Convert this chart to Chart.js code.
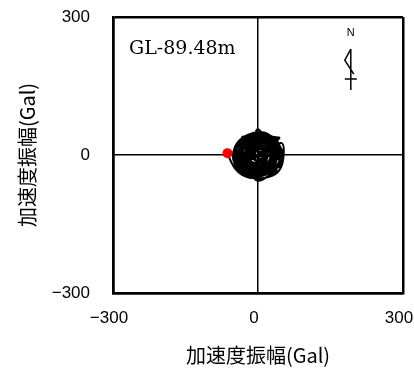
<!DOCTYPE html>
<html>
<head>
<meta charset="utf-8">
<script src="https://cdn.jsdelivr.net/npm/chart.js@4"></script>
<style>
html,body{margin:0;padding:0;background:#fff;}
</style>
</head>
<body>
<canvas id="orbit" width="414" height="376"></canvas>
<script>
// orbit of horizontal acceleration (Gal): EW on x, NS on y
const ewAcc = [
  -63,-56,-47,-34,-16,2,18,31,40,43,
  36,20,2,-16,-31,-41,-44,-36,-20,-2,
  16,29,36,30,14,-4,-22,-32,-30,-14,
  6,24,46,52,44,28,10,0,-4,2,
  -10,-24,-12,8,26,34,20,0,-18,-30,
  -38,-28,-8,14,32,40,34,14,-8,-26,
  -20,0,22,30,18,-2,-16,-6,14,16,
  2,-10,4,48,44,26,4,-22,-40,-46,
  -38,-20,4,26,42,46,38,16,-6,-28,
  -42,-48,-42,-26,-4,18,36,42,30,10,
  -12,-28,-34,-26,-8,12,26,24,8,-10,
  -22,-14,6,20,12,-6,-8,8,36,40,
  20,-30,-44,-36,-12,10,30,45,52,40,
  22,-2,-22,-38,-46,-50,-44,-30,-8,14,
  28,34,24,0,-20,-34,-36,-24,-2,20,
  28,18,-4,-22,-24,-10,10,20,10,-8,
  -12,0,12,2,-30,-34,-16,0,24,38,
  30,16,-4,-40,-48,-52,-48,-32,-10,12,
  30,44,48,42,24,2,-20,-36,-40,-36,
  -18,6,24,30,14,-14,-26,-20,0,10,
  -40,-30,-6,20,38,36,20,-4,-26,-36,
  -30,-12,10,28,32,22,0,-20,-28,-18,
  4,22,24,6,-14,-18,-2,16,8,-8,
  44,30,12,-8,-26,-42,-48,-44,-34,-16,
  6,26,42,48,42,26,6,-14,-30,-38,
  -34,-18,2,22,34,36,26,8,-12,-28,
  -36,-32,-14,8,24,28,16,-2,-18,-22,
  -10,10,16,-2,-6,4,48,52,40,12,
  -12,-32,-46,-50,-40,-20,2,20,38,46,
  44,30,10,-12,-30,-40,-38,-24,-2,20
];
const nsAcc = [
  4,-14,-30,-42,-50,-46,-38,-26,-8,12,
  30,40,43,38,27,10,-8,-24,-34,-36,
  -30,-16,2,20,30,32,24,8,-12,-24,
  -22,-12,-4,4,20,34,46,56,50,44,
  30,14,-6,-20,-36,-42,-48,-52,-42,-20,
  6,30,42,38,24,4,-18,-30,-26,-8,
  16,26,18,0,-16,-14,2,18,12,-6,
  -8,6,14,-14,-26,-30,-40,-32,-14,8,
  24,36,38,30,12,-6,-30,-42,-44,-34,
  -16,2,22,36,40,34,18,-2,-22,-34,
  -30,-18,0,18,28,24,10,-10,-24,-18,
  -2,16,20,6,-12,-10,8,6,38,28,
  -4,-30,-24,-38,-46,-44,-34,-16,-8,30,
  42,46,42,30,14,-6,-26,-40,-48,-40,
  -22,6,28,36,28,12,-10,-28,-32,-20,
  4,24,28,16,-4,-20,-18,0,16,14,
  -2,-12,-2,8,40,20,-38,-56,-44,-34,
  -10,4,-2,-32,-20,-4,16,34,44,44,
  36,16,-4,-22,-34,-38,-40,-28,-6,16,
  30,32,20,-4,-26,-28,-12,8,10,-2,
  -2,26,36,30,10,-14,-32,-36,-26,-4,
  14,26,28,16,-6,-24,-28,-20,0,20,
  22,10,-14,-26,-14,6,18,4,-14,-6,
  36,40,48,46,40,26,4,-18,-34,-44,
  -46,-38,-24,-2,20,32,34,32,22,2,
  -20,-32,-34,-28,-12,8,26,36,36,26,
  8,-14,-26,-26,-16,6,22,26,18,-2,
  -16,-10,10,12,-4,-2,26,-10,-38,-50,
  -50,-44,-28,8,30,44,50,46,28,6,
  -14,-30,-40,-40,-30,-10,14,32,40,38
];
const startPt = [-63, 4];
const tickVals = [-300, 0, 300];
const depthLabel = "GL-89.48m";
const axisTitle = "加速度振幅(Gal)";

const orbitPts = ewAcc.map((v, i) => ({ x: v, y: nsAcc[i] }));

function fmtTick(v){
    return v < 0 ? "\u2212" + Math.abs(v) : String(v);
}

const tickFont = { family: "'Liberation Sans', Arial, sans-serif", size: 17 };
const titleFont = { family: "'Noto Sans CJK JP', sans-serif", size: 20 };

// depth label + north arrow
const notes = {
    id: "notes",
    afterDraw(chart){
        const { ctx, chartArea, scales } = chart;
        ctx.save();
        ctx.fillStyle = "#000";
        ctx.font = "19px 'DejaVu Serif', serif";
        ctx.textAlign = "left";
        ctx.textBaseline = "alphabetic";
        ctx.fillText(depthLabel, chartArea.left + 16, chartArea.top + 37);

        const ax = scales.x.getPixelForValue(192);
        const ay = scales.y.getPixelForValue(265);
        ctx.font = "11px 'Liberation Sans', Arial, sans-serif";
        ctx.textAlign = "center";
        ctx.textBaseline = "middle";
        ctx.fillText("N", ax, ay);
        ctx.strokeStyle = "#000";
        ctx.lineWidth = 1.5;
        ctx.beginPath();
        ctx.moveTo(ax, ay + 16); ctx.lineTo(ax, ay + 57);
        ctx.moveTo(ax, ay + 16); ctx.lineTo(ax - 6, ay + 27); ctx.lineTo(ax + 3, ay + 41);
        ctx.moveTo(ax - 6, ay + 46); ctx.lineTo(ax + 6, ay + 46);
        ctx.stroke();
        ctx.restore();
    }
};

function axisOpts(isX){
    return {
        type: "linear",
        min: -300,
        max: 300,
        afterBuildTicks: s => { s.ticks = tickVals.map(v => ({ value: v })); },
        grid: {
            color: "#000",
            lineWidth: c => c.tick && c.tick.value === 0 ? 1.5 : 2.5,
            drawTicks: false
        },
        border: { color: "#000", width: 2.5 },
        ticks: {
            color: "#000",
            font: tickFont,
            padding: isX ? 15 : 23,
            labelOffset: isX ? -4 : 0,
            maxRotation: 0,
            autoSkip: false,
            callback: v => fmtTick(v)
        },
        title: {
            display: true,
            text: axisTitle,
            color: "#000",
            font: titleFont,
            padding: isX ? { top: 0, bottom: 9 } : { top: 15, bottom: 0 }
        },
        afterFit: s => {
            if (isX) s.height = 83; else s.width = 113;
            s.paddingLeft = 0; s.paddingRight = 0;
            s.paddingTop = 0; s.paddingBottom = 0;
        }
    };
}

new Chart(document.getElementById("orbit"), {
    type: "scatter",
    data: {
        datasets: [
            {
                data: [{ x: startPt[0], y: startPt[1] }],
                pointRadius: 5,
                pointBackgroundColor: "#ff0000",
                pointBorderWidth: 0,
                showLine: false
            },
            {
                data: orbitPts,
                showLine: true,
                borderColor: "#000",
                borderWidth: 2,
                pointRadius: 0,
                tension: 0.4
            }
        ]
    },
    options: {
        responsive: false,
        animation: false,
        layout: { padding: { left: 0, right: 11, top: 17, bottom: 0 } },
        plugins: { legend: { display: false }, tooltip: { enabled: false } },
        scales: { x: axisOpts(true), y: axisOpts(false) }
    },
    plugins: [notes]
});
</script>
</body>
</html>
